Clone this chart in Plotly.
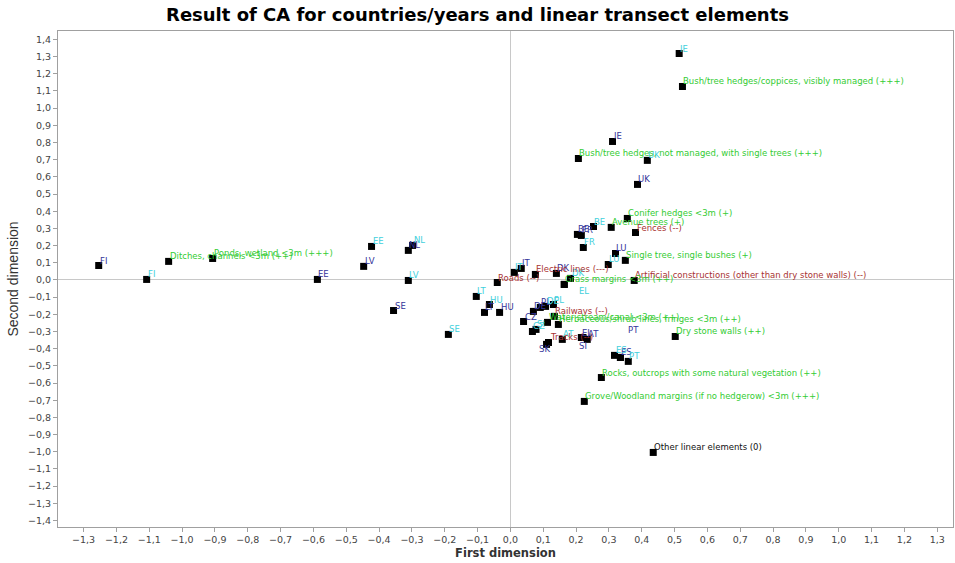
import plotly.graph_objects as go

# Transect elements (column points)
element_names = [
    "Bush/tree hedges/coppices, visibly managed (+++)",
    "Bush/tree hedges, not managed, with single trees (+++)",
    "Conifer hedges <3m (+)",
    "Avenue trees (+)",
    "Fences (--)",
    "Single tree, single bushes (+)",
    "Artificial constructions (other than dry stone walls) (--)",
    "Grass margins <3m (++)",
    "Electric lines (---)",
    "Roads (--)",
    "Railways (--)",
    "Water stream/canal <3m (++)",
    "Herbaceous/shrub lines, fringes <3m (++)",
    "Tracks (--)",
    "Dry stone walls (++)",
    "Rocks, outcrops with some natural vegetation (++)",
    "Grove/Woodland margins (if no hedgerow) <3m (+++)",
    "Other linear elements (0)",
    "Ditches, channels <3m (++)",
    "Ponds, wetland <3m (+++)",
]
element_dim1 = [0.524, 0.207, 0.356, 0.307, 0.381, 0.350, 0.377, 0.164, 0.076, -0.040,
                0.134, 0.113, 0.146, 0.116, 0.502, 0.277, 0.225, 0.435, -1.041, -0.907]
element_dim2 = [1.126, 0.707, 0.358, 0.306, 0.276, 0.114, -0.003, -0.026, 0.032, -0.015,
                -0.212, -0.247, -0.259, -0.364, -0.329, -0.568, -0.707, -1.004, 0.108, 0.125]
# effect class of each element: "pos" (+), "neg" (-), "neutral" (0)
element_effect = ["pos", "pos", "pos", "pos", "neg", "pos", "neg", "pos", "neg", "neg",
                  "neg", "pos", "pos", "neg", "pos", "pos", "pos", "neutral", "pos", "pos"]

# Countries, first survey year
countries_a = ["FI", "EE", "LV", "NL", "SE", "LT", "HU", "CZ", "DE", "PL", "IT", "DK",
               "BE", "FR", "LU", "IE", "UK", "EL", "SI", "AT", "SK", "ES", "PT"]
dim1_a = [-1.254, -0.588, -0.447, -0.311, -0.356, -0.079, -0.033, 0.040, 0.070, 0.091,
          0.033, 0.140, 0.204, 0.216, 0.320, 0.311, 0.387, 0.216, 0.221, 0.234, 0.110,
          0.335, 0.335]
dim2_a = [0.084, 0.003, 0.079, 0.172, -0.178, -0.189, -0.189, -0.242, -0.183, -0.160,
          0.067, 0.038, 0.265, 0.259, 0.154, 0.806, 0.556, -0.335, -0.335, -0.346, -0.375,
          -0.451, -0.451]

# Countries, second survey year
countries_b = ["FI", "EE", "LV", "NL", "SE", "LT", "HU", "IT", "DK", "DE", "PL", "CZ",
               "SI", "AT", "EL", "BE", "FR", "LU", "IE", "UK", "ES", "PT"]
dim1_b = [-1.108, -0.423, -0.311, -0.298, -0.189, -0.104, -0.064, 0.012, 0.183, 0.107,
          0.131, 0.067, 0.078, 0.158, 0.164, 0.253, 0.222, 0.298, 0.514, 0.417, 0.317, 0.359]
dim2_b = [0.003, 0.195, -0.003, 0.201, -0.317, -0.096, -0.143, 0.044, 0.009, -0.154,
          -0.143, -0.300, -0.288, -0.346, -0.026, 0.311, 0.189, 0.090, 1.318, 0.696,
          -0.439, -0.474]

x_ticks = [round(-1.3 + 0.1 * i, 1) for i in range(27)]
y_ticks = [round(-1.4 + 0.1 * i, 1) for i in range(29)]

# --- styling ---
COL_A = "#34349a"
COL_B = "#3fd0dc"
COL_POS = "#33cc33"
COL_NEG = "#a83232"
COL_NEUTRAL = "#111111"
effect_color = {"pos": COL_POS, "neg": COL_NEG, "neutral": COL_NEUTRAL}
LABEL_FONT = "DejaVu Sans"
LABEL_SIZE = 8.5

# labels that were pushed away from their marker to avoid collisions: (xshift, yshift)
label_moves = {
    ("a", "SK"): (-9, -10),
    ("a", "SI"): (-5, -13),
    ("a", "PT"): (7, 22),
    ("b", "EL"): (14, -12),
}

fig = go.Figure()

all_x = element_dim1 + dim1_a + dim1_b
all_y = element_dim2 + dim2_a + dim2_b
fig.add_trace(go.Scatter(
    x=all_x, y=all_y, mode="markers",
    marker=dict(symbol="square", size=7, color="black", line=dict(width=0)),
    hoverinfo="skip", showlegend=False,
))

annotations = []


def add_label(x, y, text, color, move=(0, 0)):
    annotations.append(dict(
        x=x, y=y, xref="x", yref="y", text=text, showarrow=False,
        xanchor="left", yanchor="middle", xshift=-1 + move[0], yshift=5 + move[1],
        font=dict(family=LABEL_FONT, size=LABEL_SIZE, color=color),
    ))


for n, x, y in zip(countries_a, dim1_a, dim2_a):
    add_label(x, y, n, COL_A, label_moves.get(("a", n), (0, 0)))
for n, x, y in zip(countries_b, dim1_b, dim2_b):
    add_label(x, y, n, COL_B, label_moves.get(("b", n), (0, 0)))
for n, x, y, e in zip(element_names, element_dim1, element_dim2, element_effect):
    add_label(x, y, n, effect_color[e])

axis_common = dict(
    showgrid=False, zeroline=True, zerolinecolor="#c8c8c8", zerolinewidth=1,
    showline=True, linecolor="#a0a0a0", linewidth=1, mirror=True,
    ticks="outside", ticklen=4, tickcolor="#a0a0a0", tickformat=".1f",
    tickfont=dict(family="DejaVu Sans", size=9.5, color="#444444"),
)

fig.update_layout(
    width=955, height=563,
    margin=dict(l=58, r=2, t=31, b=36),
    paper_bgcolor="white", plot_bgcolor="white",
    separators=", ",
    title=dict(
        text="<b>Result of CA for countries/years and linear transect elements</b>",
        x=0.5, xanchor="center", y=1 - 15 / 563, yanchor="middle",
        font=dict(family="DejaVu Sans", size=18, color="black"),
    ),
    xaxis=dict(
        range=[-1.378, 1.348], tickvals=x_ticks,
        title=dict(text="<b>First dimension</b>", standoff=4,
                   font=dict(family="DejaVu Sans", size=11.5, color="#333333")),
        **axis_common,
    ),
    yaxis=dict(
        range=[-1.438, 1.449], tickvals=y_ticks,
        title=dict(text="Second dimension", standoff=6,
                   font=dict(family="Liberation Sans", size=14, color="#333333")),
        **axis_common,
    ),
    annotations=annotations,
)

fig.write_html("out.html")
